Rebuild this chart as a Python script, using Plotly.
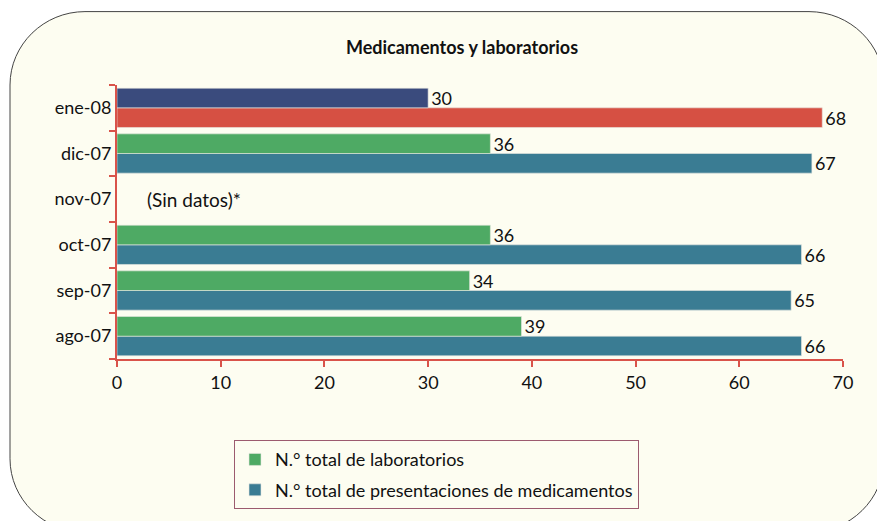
import plotly.graph_objects as go

# ---- data ----
months = ["ago-07", "sep-07", "oct-07", "nov-07", "dic-07", "ene-08"]
laboratorios = [39, 34, 36, None, 36, 30]
presentaciones = [66, 65, 66, None, 67, 68]
lab_colors = ["#4EAA64", "#4EAA64", "#4EAA64", "#4EAA64", "#4EAA64", "#3A4B7D"]
pres_colors = ["#3A7C93", "#3A7C93", "#3A7C93", "#3A7C93", "#3A7C93", "#D65043"]
x_ticks = [0, 10, 20, 30, 40, 50, 60, 70]

# page offset (body margin)
OFF = 8
W, H = 885 - 2 * OFF, 529 - 2 * OFF
L = 117 - OFF
T = 85 - OFF
R = W - (843 - OFF)
B = H - (365 - OFF)
PW, PH = W - L - R, H - T - B

def fx(px):
    return (px - OFF - L) / PW

def fy(py):
    return (H - B - (py - OFF)) / PH

FONT = "Lato"
CREAM = "#FDFDF1"
RED = "#D9534A"

def lab_text(v):
    return ["" if a is None else str(a) for a in v]

fig = go.Figure()
fig.add_trace(go.Bar(
    y=months, x=presentaciones, orientation="h",
    name="N.° total de presentaciones de medicamentos",
    marker=dict(color=pres_colors, line=dict(width=0.6, color="#E8E8E0")),
    text=lab_text(presentaciones), textposition="outside",
    textfont=dict(size=18, color="#111111", family=FONT),
    constraintext="none", cliponaxis=False,
    legendgroup="p", legendrank=2,
))
fig.add_trace(go.Bar(
    y=months, x=laboratorios, orientation="h",
    name="N.° total de laboratorios",
    marker=dict(color=lab_colors, line=dict(width=0.6, color="#E8E8E0")),
    text=lab_text(laboratorios), textposition="outside",
    textfont=dict(size=18, color="#111111", family=FONT),
    constraintext="none", cliponaxis=False,
    legendgroup="l", legendrank=1,
))

# rounded background panel (page pixel coords)
x0, x1, y0, y1, r = 10, 884, 10, 542, 75
k = 0.45
pts = [
    ("M", [(x0 + r, y0)]),
    ("L", [(x1 - r, y0)]),
    ("C", [(x1 - r * k, y0), (x1, y0 + r * k), (x1, y0 + r)]),
    ("L", [(x1, y1 - r)]),
    ("C", [(x1, y1 - r * k), (x1 - r * k, y1), (x1 - r, y1)]),
    ("L", [(x0 + r, y1)]),
    ("C", [(x0 + r * k, y1), (x0, y1 - r * k), (x0, y1 - r)]),
    ("L", [(x0, y0 + r)]),
    ("C", [(x0, y0 + r * k), (x0 + r * k, y0), (x0 + r, y0)]),
]
path = ""
for cmd, ps in pts:
    path += cmd + " ".join(f"{fx(a):.5f},{fy(b):.5f}" for a, b in ps)
path += "Z"
fig.add_shape(type="path", path=path, xref="paper", yref="paper",
              fillcolor=CREAM, line=dict(color="#444444", width=1), layer="below")

fig.add_annotation(text="(Sin datos)*", xref="paper", yref="y", x=fx(145), y="nov-07",
                   xanchor="left", yanchor="middle", showarrow=False,
                   font=dict(size=19, color="#111111", family=FONT))

fig.update_layout(
    width=W, height=H,
    margin=dict(l=L, r=R, t=T, b=B),
    paper_bgcolor="white", plot_bgcolor="rgba(0,0,0,0)",
    barmode="group", bargap=0.14, bargroupgap=0,
    font=dict(family=FONT, size=18, color="#111111"),
    title=dict(text="<b>Medicamentos y laboratorios</b>", x=(462 - OFF) / W, xanchor="center",
               y=1 - (48 - OFF) / H, yanchor="middle", xref="container", yref="container",
               font=dict(size=18, family=FONT, color="#111111")),
    xaxis=dict(range=[0, 70], tickvals=x_ticks, showgrid=False, zeroline=False,
               showline=True, linecolor=RED, linewidth=2,
               ticks="outside", ticklen=6, tickwidth=2, tickcolor=RED,
               tickfont=dict(size=18, family=FONT, color="#111111"), fixedrange=True),
    yaxis=dict(categoryorder="array", categoryarray=months, showgrid=False,
               showline=True, linecolor=RED, linewidth=2,
               ticks="outside", tickson="boundaries", ticklen=6, tickwidth=2, tickcolor=RED,
               tickfont=dict(size=18, family=FONT, color="#111111"), fixedrange=True),
    showlegend=True,
    legend=dict(x=fx(234), y=fy(448), xanchor="left", yanchor="top",
                bgcolor=CREAM, bordercolor="#9C5B6F", borderwidth=1,
                font=dict(size=18, family=FONT, color="#111111"),
                itemwidth=30, tracegroupgap=4, traceorder="grouped"),
)

fig.write_html("out.html")
